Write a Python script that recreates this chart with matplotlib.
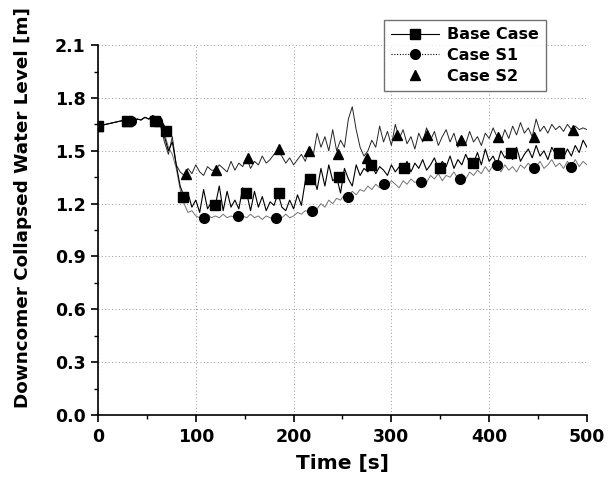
import numpy as np
import matplotlib
matplotlib.use("Agg")
import matplotlib.pyplot as plt
from matplotlib.lines import Line2D

plt.rcParams['font.family'] = 'DejaVu Sans'
plt.rcParams['font.weight'] = 'bold'

# time grid [s], every 4 s
time = np.arange(0, 501, 4)

early = [1.64, 1.645, 1.65, 1.655, 1.66, 1.665, 1.67, 1.67, 1.675, 1.67,
         1.68, 1.675, 1.69, 1.68, 1.70, 1.685]

base = early + [
    1.66, 1.58, 1.50, 1.55, 1.42, 1.30, 1.24, 1.26, 1.18, 1.22,
    1.15, 1.28, 1.17, 1.21, 1.19, 1.30, 1.16, 1.27, 1.18, 1.22,
    1.17, 1.29, 1.26, 1.16, 1.27, 1.18, 1.24, 1.16, 1.21, 1.19,
    1.26, 1.18, 1.16, 1.22, 1.17, 1.25, 1.19, 1.33, 1.34, 1.36,
    1.28, 1.40, 1.30, 1.42, 1.33, 1.35, 1.26, 1.40, 1.34, 1.30,
    1.42, 1.36, 1.40, 1.38, 1.42, 1.37, 1.41, 1.39, 1.36, 1.42,
    1.38, 1.41, 1.40, 1.44, 1.38, 1.43, 1.40, 1.45, 1.39, 1.42,
    1.46, 1.40, 1.44, 1.41, 1.47, 1.40, 1.45, 1.42, 1.48, 1.43,
    1.43, 1.49, 1.42, 1.51, 1.44, 1.47, 1.42, 1.50, 1.46, 1.49,
    1.45, 1.52, 1.44, 1.48, 1.51, 1.46, 1.53, 1.47, 1.50, 1.45,
    1.52, 1.48, 1.49, 1.46, 1.51, 1.47, 1.53, 1.49, 1.56, 1.52]

case_s1 = early + [
    1.66, 1.60, 1.52, 1.48, 1.40, 1.28, 1.20, 1.15, 1.16, 1.13,
    1.12, 1.11, 1.14, 1.12, 1.13, 1.12, 1.14, 1.12, 1.13, 1.12,
    1.13, 1.13, 1.12, 1.14, 1.12, 1.13, 1.11, 1.13, 1.12, 1.11,
    1.13, 1.12, 1.14, 1.12, 1.13, 1.15, 1.14, 1.16, 1.15, 1.16,
    1.17, 1.20, 1.18, 1.22, 1.20, 1.23, 1.22, 1.25, 1.24, 1.27,
    1.25, 1.28, 1.27, 1.30, 1.28, 1.31, 1.29, 1.31, 1.30, 1.33,
    1.31, 1.29, 1.33, 1.31, 1.34, 1.32, 1.33, 1.35, 1.32, 1.36,
    1.34, 1.37, 1.33, 1.36, 1.35, 1.38, 1.34, 1.37, 1.34, 1.38,
    1.36, 1.39, 1.37, 1.41, 1.38, 1.42, 1.42, 1.38, 1.42, 1.39,
    1.41, 1.38, 1.42, 1.40, 1.43, 1.40, 1.41, 1.44, 1.40, 1.42,
    1.45, 1.41, 1.43, 1.40, 1.44, 1.41, 1.45, 1.41, 1.44, 1.42]

case_s2 = early + [
    1.64, 1.55, 1.48, 1.58, 1.42, 1.38, 1.36, 1.40, 1.37, 1.42,
    1.38, 1.36, 1.41, 1.39, 1.39, 1.42, 1.40, 1.38, 1.44, 1.39,
    1.43, 1.41, 1.46, 1.40, 1.44, 1.42, 1.47, 1.43, 1.45, 1.48,
    1.50, 1.47, 1.43, 1.46, 1.42, 1.45, 1.48, 1.44, 1.52, 1.47,
    1.60, 1.52, 1.58, 1.50, 1.62, 1.50, 1.56, 1.52, 1.68, 1.75,
    1.62, 1.52, 1.47, 1.50, 1.56, 1.52, 1.64, 1.55, 1.61, 1.53,
    1.65, 1.57, 1.62, 1.54, 1.58, 1.51, 1.60, 1.55, 1.63, 1.56,
    1.61, 1.53, 1.58, 1.62, 1.55, 1.60, 1.52, 1.58, 1.54, 1.61,
    1.55, 1.58, 1.53, 1.60, 1.57, 1.63, 1.58, 1.55, 1.62, 1.57,
    1.64, 1.59, 1.66, 1.60, 1.63, 1.58, 1.68, 1.61, 1.64, 1.60,
    1.65, 1.62, 1.64, 1.61, 1.65, 1.62, 1.64, 1.62, 1.63, 1.62]

# marker positions
base_mt = [0, 30, 58, 70, 87, 120, 151, 185, 217, 246, 279, 313, 350, 383, 422, 471]
base_my = [1.64, 1.67, 1.67, 1.61, 1.24, 1.19, 1.26, 1.26, 1.34, 1.35, 1.42, 1.40, 1.40, 1.43, 1.49, 1.49]
s1_mt = [0, 34, 60, 108, 143, 182, 219, 256, 292, 330, 370, 408, 446, 484]
s1_my = [1.64, 1.67, 1.67, 1.12, 1.13, 1.12, 1.16, 1.24, 1.31, 1.32, 1.34, 1.42, 1.40, 1.41]
s2_mt = [0, 30, 62, 90, 121, 153, 185, 216, 245, 275, 306, 336, 371, 409, 446, 486]
s2_my = [1.64, 1.67, 1.67, 1.37, 1.39, 1.46, 1.51, 1.50, 1.48, 1.46, 1.59, 1.59, 1.56, 1.58, 1.58, 1.62]

fig = plt.figure(figsize=(6.14, 4.9), dpi=100)
ax = fig.add_axes([0.1596, 0.153, 0.7964, 0.755])

ax.plot(time, case_s1, color='0.45', lw=0.7)
ax.plot(time, case_s2, color='0.15', lw=0.7)
ax.plot(time, base, color='black', lw=0.8)
ax.plot(s1_mt, s1_my, 'o', color='black', ms=7)
ax.plot(base_mt, base_my, 's', color='black', ms=7)
ax.plot(s2_mt, s2_my, '^', color='black', ms=7.5)

ax.set_xlim(0, 500)
ax.set_ylim(0, 2.1)
ax.set_xticks([0, 100, 200, 300, 400, 500])
ax.set_xticks([50, 150, 250, 350, 450], minor=True)
ax.set_yticks(np.arange(0, 2.11, 0.3))
ax.set_yticks(np.arange(0.15, 2.1, 0.3), minor=True)
ax.yaxis.set_major_formatter(matplotlib.ticker.FormatStrFormatter('%.1f'))
ax.tick_params(which='major', direction='out', length=5, width=1.2, labelsize=12.5, pad=4)
ax.tick_params(which='minor', direction='out', length=3, width=1)
for lab in ax.get_xticklabels() + ax.get_yticklabels():
    lab.set_fontweight('bold')

ax.grid(True, which='major', color='0.6', ls=(0, (1, 2.5)), lw=0.7)
ax.spines['top'].set_visible(False)
ax.spines['right'].set_visible(False)
ax.spines['left'].set_linewidth(1.2)
ax.spines['bottom'].set_linewidth(1.2)

ax.set_xlabel('Time [s]', fontsize=14.5, fontweight='bold', labelpad=6)
ax.set_ylabel('Downcomer Collapsed Water Level [m]', fontsize=13.2, fontweight='bold')
ax.yaxis.set_label_coords(-0.135, 0.562)

handles = [Line2D([], [], color='black', lw=0.8, marker='s', ms=7),
           Line2D([], [], color='black', lw=0.8, ls=(0, (1, 1.5)), marker='o', ms=7),
           Line2D([], [], color='black', lw=0, marker='^', ms=7.5)]
leg = fig.legend(handles, ['Base Case', 'Case S1', 'Case S2'],
                 loc='upper left', bbox_to_anchor=(0.612, 0.975),
                 prop={'size': 11.5, 'weight': 'bold'}, frameon=True,
                 fancybox=False, edgecolor='0.3', handlelength=3,
                 labelspacing=0.35, borderpad=0.45, handletextpad=0.5)
leg.get_frame().set_linewidth(1.0)

fig.savefig('out.png', dpi=100)
